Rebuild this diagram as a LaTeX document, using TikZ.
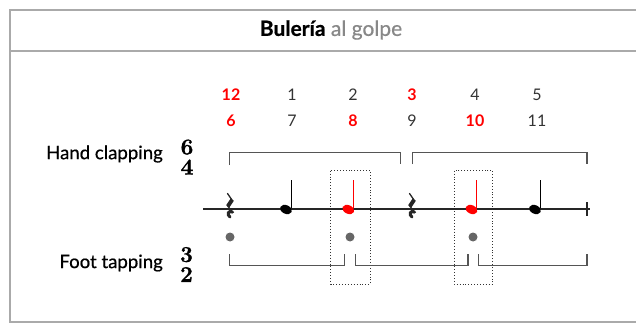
\documentclass[tikz,border=0pt]{standalone}
\usepackage{fontspec}
\setmainfont{Lato}
\newfontfamily\labfont[FakeBold=0.6]{Lato}
\newfontfamily\tsfont[FakeBold=1.4]{Latin Modern Roman}
\usetikzlibrary{calc}
\definecolor{framegray}{HTML}{AAAAAA}
\definecolor{numgray}{HTML}{333333}
\definecolor{brgray}{HTML}{555555}
\definecolor{dotgray}{HTML}{666666}
\definecolor{accent}{HTML}{FF0000}
\definecolor{subgray}{HTML}{888888}
\tikzset{
  num/.style={font=\fontsize{16}{16}\selectfont, text=numgray, inner sep=0pt},
  hot/.style={font=\fontsize{16}{16}\selectfont\bfseries, text=accent, inner sep=0pt},
  lab/.style={font=\labfont\fontsize{18.6}{19}\selectfont, text=black, inner sep=0pt},
  tsig/.style={font=\tsfont\bfseries\fontsize{22.5}{20}\selectfont, align=center, inner sep=0pt},
  bracket/.style={draw=brgray, line width=1.3pt},
  hl/.style={draw=numgray, dotted, line width=0.9pt},
  tap/.style={circle, fill=dotgray, minimum size=9pt, inner sep=0pt},
  staff/.style={draw=black!85, line width=1.4pt},
}
\newcommand{\qrest}[1]{%
  \begin{scope}[shift={(#1)}]
    \draw[line width=1.3pt, black!85, line cap=round] (-2.5,-14) -- (2,-7.5);
    \draw[line width=4pt, black!85] (2.2,-7.8) -- (-2.2,-1.2);
    \draw[line width=1.3pt, black!85, line cap=round] (-2.4,-1.6) -- (2.6,4.6);
    \draw[line width=3pt, black!85, line cap=round] (2.6,4.6) .. controls (-2,2.5) and (-3.5,7) .. (0,9.5);
  \end{scope}}
\newcommand{\qnote}[2]{%
  \begin{scope}[shift={(#1)}]
    \fill[#2, rotate=-24] (0,0) ellipse (6.2pt and 4.3pt);
    \draw[#2, line width=1.3pt] (5.2,-1.2) -- (5.2,-29.5);
  \end{scope}}
\begin{document}
\begin{tikzpicture}[x=1pt,y=-1pt]
\useasboundingbox (0,0) rectangle (636,323);
% frame
\draw[framegray, line width=2pt] (660,10) -- (10,10) -- (10,322) -- (660,322);
\draw[framegray, line width=2pt] (10,51) -- (660,51);
\node[inner sep=0pt, font=\labfont\fontsize{21}{21}\selectfont] (title) at (331,30) {\textbf{Bulería} \textcolor{subgray}{al golpe}};
% numbers
\node[hot] (n12) at (231,95) {12};
\node[num] (n1) at (292,95) {1};
\node[num] (n2) at (353,95) {2};
\node[hot] (n3) at (412,95) {3};
\node[num] (n4) at (475,95) {4};
\node[num] (n5) at (537,95) {5};
\node[hot] (n6) at (231,121) {6};
\node[num] (n7) at (292,121) {7};
\node[hot] (n8) at (353,121) {8};
\node[num] (n9) at (412,121) {9};
\node[hot] (n10) at (475,121) {10};
\node[num] (n11) at (537,121) {11};
% labels
\node[lab, anchor=east] (hc) at (163,154) {Hand clapping};
\node[tsig] (ts64) at (187,157) {6\\4};
\node[lab, anchor=east] (ft) at (163,263) {Foot tapping};
\node[tsig] (ts32) at (186.5,264.5) {3\\2};
% highlight boxes
\draw[hl] (330.7,170.7) rectangle (370.3,284);
\draw[hl] (454,170.7) rectangle (492.7,284);
% top brackets
\draw[bracket] (229.5,165) -- (229.5,152.5) -- (400.5,152.5) -- (400.5,164);
\draw[bracket] (412.5,164) -- (412.5,152.5) -- (587,152.5) -- (587,164);
% staff
\coordinate (sL) at (203,209);
\coordinate (sR) at (590,209);
\draw[staff] (sL) -- (sR);
\draw[line width=1.3pt, black!85] (587,202) -- (587,216);
\qrest{230,207.5}
\qrest{412,207.5}
\qnote{286,209.5}{black}
\qnote{348.3,209.5}{accent}
\qnote{471.5,209.5}{accent}
\qnote{535,209.5}{black}
% taps
\node[tap] (t1) at (230,237) {};
\node[tap] (t2) at (350,237) {};
\node[tap] (t3) at (473,237) {};
% bottom brackets
\draw[bracket] (229.5,254) -- (229.5,265.7) -- (344.5,265.7) -- (344.5,254);
\draw[bracket] (355.5,254) -- (355.5,265.7) -- (468,265.7) -- (468,254);
\draw[bracket] (478.5,254) -- (478.5,265.7) -- (587,265.7) -- (587,254);
\end{tikzpicture}
\end{document}
